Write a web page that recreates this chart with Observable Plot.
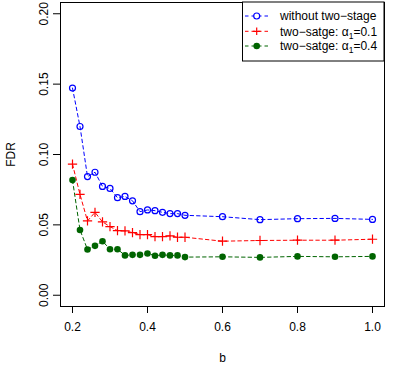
<!DOCTYPE html>
<html><head><meta charset="utf-8">
<script src="https://cdn.jsdelivr.net/npm/d3@7"></script>
<script src="https://cdn.jsdelivr.net/npm/@observablehq/plot@0.6"></script>
<style>body{margin:0;background:#fff} svg{font-family:"Liberation Sans",Arial,sans-serif}</style>
</head><body><div id="chart"></div>
<script>
const b = [0.2,0.22,0.24,0.26,0.28,0.30,0.32,0.34,0.36,0.38,0.40,0.42,0.44,0.46,0.48,0.50,0.6,0.7,0.8,0.9,1.0];
const fdrWithout = [0.1472,0.1199,0.0843,0.0874,0.0773,0.0759,0.0693,0.0702,0.0671,0.0594,0.0606,0.0601,0.0589,0.0580,0.0580,0.0568,0.0558,0.0537,0.0544,0.0546,0.0539];
const fdrAlpha01 = [0.0931,0.0716,0.0528,0.0589,0.0521,0.0488,0.0459,0.0457,0.0445,0.0431,0.0431,0.0417,0.0417,0.0422,0.0412,0.0412,0.0384,0.0389,0.0391,0.0391,0.0398];
const fdrAlpha04 = [0.0818,0.0464,0.0325,0.0351,0.0384,0.0327,0.0327,0.0283,0.0287,0.0287,0.0297,0.0281,0.0287,0.0283,0.0283,0.0271,0.0273,0.0269,0.0276,0.0273,0.0276];
const seriesNames = ["without two−stage", "two−satge: α1=0.1", "two−satge: α1=0.4"];
const seriesColors = ["#0000ff", "#ff0000", "#006400"];
const xTicks = [0.2, 0.4, 0.6, 0.8, 1.0];
const yTicks = [0, 0.05, 0.10, 0.15, 0.20];

const allSeries = [fdrWithout, fdrAlpha01, fdrAlpha04];
const data = allSeries.flatMap((vals, i) => vals.map((v, j) => ({b: b[j], fdr: v, s: seriesNames[i]})));

const W = 399, H = 367;
const chart = Plot.plot({
  width: W, height: H,
  marginLeft: 60, marginRight: 15, marginTop: 2, marginBottom: 61,
  style: {fontSize: "12px", fontFamily: '"Liberation Sans", Arial, sans-serif', color: "#000", background: "#fff"},
  x: {domain: [0.168, 1.032]},
  y: {domain: [-0.008, 0.208]},
  color: {domain: seriesNames, range: seriesColors},
  symbol: {domain: seriesNames, range: ["circle", "plus", "circle"]},
  marks: [
    Plot.axisX({ticks: xTicks, tickFormat: d3.format(".1f"), tickSize: 7, tickPadding: 9, label: "b", labelAnchor: "center", labelArrow: "none", labelOffset: 55}),
    Plot.axisY({ticks: yTicks, tickFormat: d3.format(".2f"), tickSize: 7, tickPadding: 6, tickRotate: -90, label: "FDR", labelAnchor: "center", labelArrow: "none", labelOffset: 54}),
    Plot.line(data, {x: "b", y: "fdr", z: "s", stroke: "s", strokeWidth: 1, strokeDasharray: "3.5,3"}),
    Plot.dot(data.filter(d => d.s === seriesNames[0]), {x: "b", y: "fdr", r: 3, stroke: "s", strokeWidth: 1.2, fill: "none"}),
    Plot.dot(data.filter(d => d.s === seriesNames[1]), {x: "b", y: "fdr", r: 3.1, symbol: "plus", stroke: "s", strokeWidth: 1.2}),
    Plot.dot(data.filter(d => d.s === seriesNames[2]), {x: "b", y: "fdr", r: 3.3, fill: "s", stroke: "none"}),
    Plot.frame({stroke: "#000", strokeWidth: 1})
  ]
});
document.getElementById("chart").appendChild(chart);

// legend (R-style, top-right inside plot box)
const svg = d3.select(chart);
const lx0 = 242.5, ly0 = 2, lx1 = W - 15, ly1 = 61;
const lg = svg.append("g").attr("text-anchor", "start");
lg.append("rect").attr("x", lx0).attr("y", ly0).attr("width", lx1 - lx0).attr("height", ly1 - ly0)
  .attr("fill", "#fff").attr("stroke", "#000");
const rowY = [16, 31.3, 46];
seriesNames.forEach((name, i) => {
  const y = rowY[i];
  lg.append("line").attr("x1", 245).attr("x2", 268).attr("y1", y).attr("y2", y)
    .attr("stroke", seriesColors[i]).attr("stroke-dasharray", "3.5,3");
  if (i === 0) lg.append("circle").attr("cx", 256.7).attr("cy", y).attr("r", 3).attr("fill", "#fff").attr("stroke", seriesColors[i]).attr("stroke-width", 1.2);
  if (i === 1) lg.append("path").attr("d", `M${256.7-3.8},${y}h7.6M256.7,${y-3.8}v7.6`).attr("stroke", seriesColors[i]).attr("stroke-width", 1.2);
  if (i === 2) lg.append("circle").attr("cx", 256.7).attr("cy", y).attr("r", 3.3).attr("fill", seriesColors[i]);
  const t = lg.append("text").attr("x", 280).attr("y", y).attr("dy", "0.36em").attr("font-size", "12px").attr("fill", "#000").attr("text-anchor", "start");
  const m = name.match(/^(.*α)1(=.*)$/);
  if (m) {
    t.append("tspan").text(m[1]);
    t.append("tspan").attr("font-size", "8.5px").attr("dy", "3").text("1");
    t.append("tspan").attr("dy", "-3").text(m[2]);
  } else t.text(name);
});
</script></body></html>
